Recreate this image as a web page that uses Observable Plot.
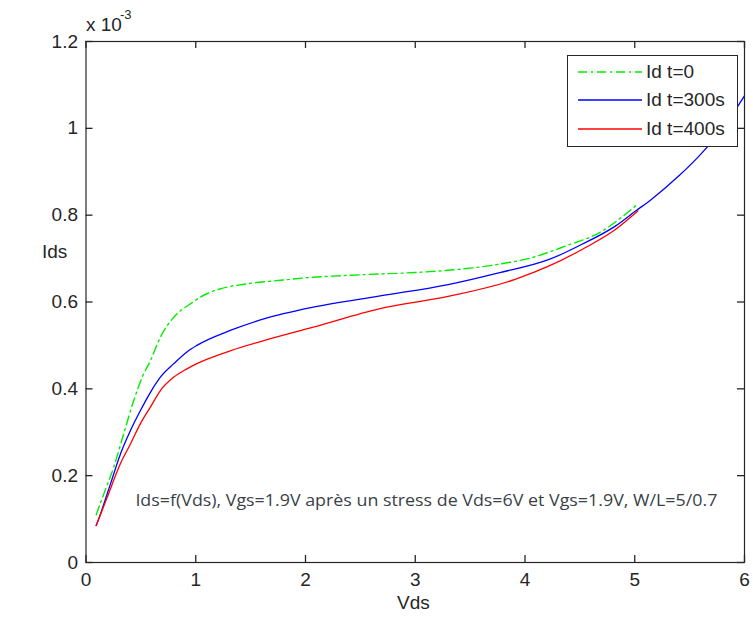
<!DOCTYPE html>
<html>
<head>
<meta charset="utf-8">
<script src="https://cdn.jsdelivr.net/npm/d3@7"></script>
<script src="https://cdn.jsdelivr.net/npm/@observablehq/plot@0.6"></script>
<style>
  body { margin: 0; background: #fff; }
  #wrap { position: relative; width: 753px; height: 618px; font-family: "Liberation Sans", Arial, sans-serif; }
  .lbl { position: absolute; font-size: 19px; line-height: 22px; color: #262626; white-space: nowrap; }
  #legend { position: absolute; left: 567px; top: 55px; width: 171px; height: 92px; border: 1px solid #262626; background: #fff; box-sizing: border-box; }
  .row { position: absolute; left: 0; height: 24px; width: 100%; }
  .row svg { position: absolute; left: 10px; top: 6px; }
  .row span { position: absolute; left: 78px; top: 0; font-size: 19px; line-height: 24px; color: #262626; white-space: nowrap; }
</style>
</head>
<body>
<div id="wrap"></div>
<script>
// Data (Vds in V, Ids in units of 1e-3 A)
const greenX = [0.093, 0.162, 0.253, 0.344, 0.435, 0.512, 0.587, 0.678, 0.80, 0.952, 1.10, 1.22, 1.47, 1.77, 2.07, 2.53, 3.00, 3.30, 3.76, 4.06, 4.37, 4.68, 5.01];
const greenY = [0.110, 0.158, 0.22, 0.297, 0.373, 0.427, 0.465, 0.519, 0.565, 0.596, 0.619, 0.63, 0.642, 0.65, 0.657, 0.663, 0.668, 0.673, 0.687, 0.702, 0.729, 0.760, 0.822];
const blueX = [0.093, 0.132, 0.223, 0.314, 0.405, 0.496, 0.587, 0.678, 0.80, 0.92, 1.01, 1.32, 1.62, 2.07, 2.68, 3.30, 3.76, 4.22, 4.52, 4.83, 5.01, 5.14, 5.4, 5.6, 5.8, 6.0];
const blueY = [0.085, 0.112, 0.181, 0.25, 0.304, 0.35, 0.392, 0.427, 0.458, 0.485, 0.50, 0.535, 0.561, 0.588, 0.614, 0.64, 0.667, 0.698, 0.733, 0.776, 0.81, 0.834, 0.89, 0.94, 1.0, 1.075];
const redX = [0.093, 0.193, 0.314, 0.405, 0.496, 0.587, 0.678, 0.80, 0.92, 1.01, 1.32, 1.62, 2.07, 2.68, 3.30, 3.91, 4.22, 4.52, 4.83, 5.03];
const redY = [0.085, 0.15, 0.228, 0.273, 0.32, 0.358, 0.396, 0.427, 0.446, 0.458, 0.488, 0.511, 0.542, 0.585, 0.613, 0.652, 0.683, 0.721, 0.768, 0.81];
const seriesNames = ["Id t=0", "Id t=300s", "Id t=400s"];
const xTicks = [0, 1, 2, 3, 4, 5, 6];
const yTicks = [0, 0.2, 0.4, 0.6, 0.8, 1, 1.2];
const annotation = [{x: 0.45, y: 0.143, text: "Ids=f(Vds), Vgs=1.9V après un stress de Vds=6V et Vgs=1.9V, W/L=5/0.7"}];

const toPts = (xs, ys) => xs.map((x, i) => ({x, y: ys[i]}));
const green = toPts(greenX, greenY), blue = toPts(blueX, blueY), red = toPts(redX, redY);

const fmt = d => String(d);
const axisStyle = {stroke: "#262626", fill: "#262626", fontSize: 19};

const W = 753, H = 618, mL = 85.5, mR = 9, mT = 41, mB = 56, T = 7;
const innerH = H - mT - mB, innerW = W - mL - mR;
const tickStyle = {stroke: "#262626", strokeWidth: 1.3};

const chart = Plot.plot({
  width: W, height: H,
  marginLeft: mL, marginRight: mR, marginTop: mT, marginBottom: mB,
  style: {fontFamily: "Liberation Sans, Arial, sans-serif", fontSize: "19px", color: "#262626", background: "#fff"},
  x: {domain: [0, 6], label: null},
  y: {domain: [0, 1.2], label: null},
  marks: [
    Plot.axisX({ticks: xTicks, anchor: "bottom", tickSize: 0, tickPadding: 10, tickFormat: fmt, label: null, ...axisStyle}),
    Plot.axisY({ticks: yTicks, anchor: "left", tickSize: 0, tickPadding: 8, tickFormat: fmt, label: null, ...axisStyle}),
    // inward ticks on all four sides
    Plot.tickX(xTicks, {x: d => d, insetTop: innerH - T, ...tickStyle}),
    Plot.tickX(xTicks, {x: d => d, insetBottom: innerH - T, ...tickStyle}),
    Plot.tickY(yTicks, {y: d => d, insetRight: innerW - T, ...tickStyle}),
    Plot.tickY(yTicks, {y: d => d, insetLeft: innerW - T, ...tickStyle}),
    Plot.line(blue, {x: "x", y: "y", stroke: "#0000ff", strokeWidth: 1.3, curve: "monotone-x"}),
    Plot.line(red, {x: "x", y: "y", stroke: "#ff0000", strokeWidth: 1.3, curve: "monotone-x"}),
    Plot.line(green, {x: "x", y: "y", stroke: "#00ee00", strokeWidth: 1.4, strokeDasharray: "9,4,2,4", curve: "monotone-x"}),
    Plot.text(annotation, {x: "x", y: "y", text: "text", textAnchor: "start", fill: "#3a3f48", fontSize: 17, fontFamily: "Open Sans, sans-serif", className: "annot"}),
    Plot.frame({stroke: "#262626", strokeWidth: 1.2})
  ]
});

const wrap = document.getElementById("wrap");
wrap.appendChild(chart);
d3.select(chart).selectAll(".annot text").attr("textLength", 582).attr("lengthAdjust", "spacingAndGlyphs");

// labels
const addLabel = (html, left, top, extra = "") => {
  const d = document.createElement("div");
  d.className = "lbl"; d.innerHTML = html;
  d.style.left = left + "px"; d.style.top = top + "px";
  if (extra) d.style.cssText += extra;
  wrap.appendChild(d);
};
addLabel("x 10", 86, 14);
addLabel("-3", 120, 7, "font-size:13px;line-height:16px;");
addLabel("Ids", 42, 241);
addLabel("Vds", 397, 592);

// legend
const legend = document.createElement("div");
legend.id = "legend";
const colors = ["#00ee00", "#0000ff", "#ff0000"];
const dashes = ["9,4,2,4", null, null];
seriesNames.forEach((name, i) => {
  const row = document.createElement("div");
  row.className = "row";
  row.style.top = (4 + i * 28.3) + "px";
  const dash = dashes[i] ? `stroke-dasharray="${dashes[i]}"` : "";
  row.innerHTML = `<svg width="64" height="12"><line x1="0" y1="6" x2="64" y2="6" stroke="${colors[i]}" stroke-width="1.4" ${dash}/></svg><span>${name}</span>`;
  legend.appendChild(row);
});
wrap.appendChild(legend);
</script>
</body>
</html>
